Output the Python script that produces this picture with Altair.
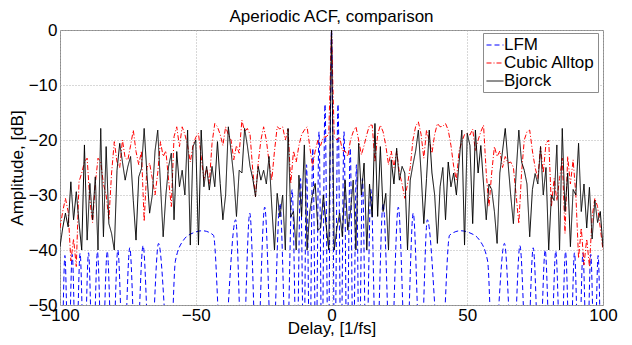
import altair as alt
import pandas as pd

# ---------------- data ----------------
delays = list(range(-100, 101))

bjorck = [
    # -100 .. -67
    -39.4, -36, -33.3, -35.8, -27.6, -34.5, -29.4, -35, -40, -20.9, -38.2, -27.9, -34.5, -26.7, -40, -17.9,
    -37.6, -21.2, -35.2, -37, -40, -25.5, -20.6, -24, -27.3, -24.8, -23, -31, -38.2, -26.7, -25.2, -17.9, -26, -33.3,
    # -66 .. -34
    -30, -22, -18.2, -28, -37.6, -30, -24.8, -22.4, -34.5, -22.1, -28.5, -25.5, -30, -18.2, -39.1, -21.2, -20,
    -39.1, -18.2, -28.5, -24.8, -29.1, -24.8, -28.5, -20.3, -27.9, -34.5, -30, -17.6, -22, -26.7, -33.9, -25.5,
    # -33 .. -1
    -26, -17.9, -21, -24.8, -27, -30.3, -24.8, -27.3, -25.5, -28, -23, -32, -40, -29.7, -34, -30, -40, -17.9,
    -34, -33, -40, -26.4, -33.9, -20.9, -40, -33, -30, -27.9, -36.4, -36, -30, -35.5, -40,
    # 0
    0,
    # 1 .. 33
    -40, -36, -33.3, -37.6, -27.3, -36.4, -33, -27.3, -40, -20.6, -30, -24.2, -40, -28, -34, -17, -33.9, -21.2,
    -33, -29.7, -40, -23.6, -28, -21.5, -27.3, -24.8, -26, -40, -27.3, -24.5, -22, -18.2, -26,
    # 34 .. 66
    -35.2, -27, -18.2, -26, -30, -38.8, -28.5, -25, -34.5, -24, -28.5, -26, -30, -24, -18.2, -39.1, -18.8, -21,
    -35.2, -18.2, -26, -21, -28, -34.5, -28, -29, -33, -38.8, -26, -22, -17.9, -24, -30,
    # 67 .. 100
    -35.2, -26, -18.2, -24, -25.5, -28, -37.6, -29, -26.1, -28, -21.2, -30, -25, -40, -30, -31, -20.9, -40,
    -17.9, -33, -26, -39.4, -29, -30, -20.6, -33, -28, -36, -28.6, -38, -31, -35, -33, -39.5,
]

alltop = [
    # -100 .. -67
    -36, -33, -30.6, -33, -42, -38, -43, -27.6, -26, -24, -23.3, -31, -35, -28, -23.3, -24, -28, -30, -34.5,
    -26, -20.3, -24, -25, -20, -23.3, -23.6, -21, -18.2, -22.1, -24.5, -22, -34.8, -25, -24.2,
    # -66 .. -34
    -27, -30, -26, -20.3, -23, -22, -27.3, -32.1, -19.4, -17.6, -21.2, -17.6, -19, -21, -24, -21, -19.5, -18.8,
    -23, -27.3, -25, -27.9, -20.6, -17, -17.6, -19, -21, -17.6, -19, -20, -23.6, -21, -22.4,
    # -33 .. -1
    -16.4, -18.5, -17.9, -19, -25.5, -30.3, -24.2, -20, -17.6, -20, -24, -27.3, -22, -17.6, -18, -17.6, -20,
    -18, -27.9, -22, -24, -21, -19, -18.2, -17.6, -21.2, -24.8, -22, -20, -21, -19.5, -19.4, -19,
    # 0
    0,
    # 1 .. 33
    -19.4, -20, -19.4, -21.9, -22, -23, -20, -18.5, -17.6, -20, -22.7, -21, -19, -17.3, -17.3, -24, -19, -17.3,
    -18.5, -21, -24.5, -22, -25, -22, -26, -28, -30.6, -28, -25, -20, -17.5, -16.7, -19,
    # 34 .. 66
    -23.3, -18.2, -20, -22.4, -19, -17, -17.6, -17.5, -17, -18.2, -21, -24.8, -27.3, -22, -20.3, -19, -18.8,
    -19.1, -18, -22, -20, -18.5, -17.3, -26, -32.1, -26, -21.2, -23, -22, -25, -23, -24.2, -24,
    # 67 .. 100
    -25, -30, -35.2, -26, -20, -18.5, -18.2, -22, -25, -27, -21.2, -26, -20.6, -20, -32.1, -27, -31, -27,
    -23.3, -37, -23, -28, -23.6, -30, -41.5, -36, -42.7, -38, -43, -34, -30.6, -32.1, -36, -40,
]

# LFM: lobe peaks and nulls for positive delays (the ACF magnitude is symmetric)
lfm_pos_delay = [0, 1.2, 2.4, 3.5, 4.6, 5.7, 6.9, 8.0, 9.2, 10.2, 11.4, 12.8, 14.5, 16.5, 19, 21.8, 24.6, 27.5,
                 30.1, 32.8, 35.3, 40.3, 43.5, 47.5, 51, 54.5, 57.5, 59.5, 63.7, 66.8, 69.4, 72, 74.3, 76.6,
                 78.7, 80.7, 82.6, 84.5, 86.2, 87.9, 89.5, 91.1, 92.6, 94.1, 95.5, 96.9, 98.2, 99.5, 100]
lfm_pos_db = [0, -62, -13.5, -62, -18.5, -62, -21.5, -62, -24.5, -62, -27, -62, -29, -62, -31.5, -62, -32.2, -62,
              -33.3, -62, -34.5, -62, -37.3, -36.5, -36.9, -38.2, -42, -62, -38.8, -62, -39.2, -62, -39.6, -62,
              -40, -62, -40.2, -62, -40.3, -62, -40.5, -62, -40.6, -62, -40.8, -62, -41, -62, -55]

lfm_delay = [-d for d in reversed(lfm_pos_delay[1:])] + lfm_pos_delay
lfm_db = list(reversed(lfm_pos_db[1:])) + lfm_pos_db

series_order = ["LFM", "Cubic Alltop", "Bjorck"]
series_colors = ["#0000ff", "#ff0000", "#000000"]
series_dashes = [[5, 3], [5, 2, 1, 2], [1, 0]]

x_ticks = [-100, -50, 0, 50, 100]
y_ticks = [-50, -40, -30, -20, -10, 0]
chart_title = "Aperiodic ACF, comparison"

df_lfm = pd.DataFrame({"delay": lfm_delay, "db": lfm_db, "series": "LFM"})
df_alltop = pd.DataFrame({"delay": delays, "db": alltop, "series": "Cubic Alltop"})
df_bjorck = pd.DataFrame({"delay": delays, "db": bjorck, "series": "Bjorck"})
df_title = pd.DataFrame({"label": [chart_title]})

FONT = "Liberation Sans"
FS = 17

dash_expr = ("datum.value === 'LFM' ? [5, 3] : "
             "(datum.value === 'Cubic Alltop' ? [5, 2, 1, 2] : [1, 0])")

legend = alt.Legend(
    title=None, orient="none", legendX=423, legendY=3,
    fillColor="white", strokeColor="#8c8c8c", padding=3, rowPadding=1,
    labelFontSize=FS, labelFont=FONT, labelColor="black", labelOffset=0,
    symbolType="stroke", symbolSize=289, symbolStrokeWidth=1,
    symbolDash=alt.ExprRef(expr=dash_expr),
)

x_enc = alt.X("delay:Q",
              scale=alt.Scale(domain=[-100, 100], nice=False, zero=False),
              axis=alt.Axis(values=x_ticks, title="Delay, [1/fs]", titleX=271.5, titleY=23,
                            titleBaseline="middle", titleAlign="center", labelPadding=2,
                            labelFlush=False, labelOverlap=False))
y_enc = alt.Y("db:Q",
              scale=alt.Scale(domain=[-50, 0], nice=False, zero=False),
              axis=alt.Axis(values=y_ticks, title="Amplitude, [dB]", titleX=-43, titleY=137.5,
                            titleAngle=-90, titleBaseline="middle", titleAlign="center", labelPadding=3,
                            labelFlush=False, labelOverlap=False))
enc = dict(
    x=x_enc, y=y_enc,
    color=alt.Color("series:N", scale=alt.Scale(domain=series_order, range=series_colors), legend=legend),
    strokeDash=alt.StrokeDash("series:N", scale=alt.Scale(domain=series_order, range=series_dashes), legend=None),
)

lfm_layer = alt.Chart(df_lfm).mark_line(interpolate="monotone", clip=True, strokeWidth=1).encode(**enc)
alltop_layer = alt.Chart(df_alltop).mark_line(clip=True, strokeWidth=1).encode(**enc)
bjorck_layer = alt.Chart(df_bjorck).mark_line(clip=True, strokeWidth=1).encode(**enc)

title_layer = alt.Chart(df_title).mark_text(
    font=FONT, fontSize=FS, color="black", align="center", baseline="alphabetic"
).encode(x=alt.value(271.5), y=alt.value(-8), text="label:N")

chart = alt.layer(lfm_layer, alltop_layer, bjorck_layer, title_layer).properties(
    width=543, height=275,
    padding={"left": 52, "top": 22, "right": 21, "bottom": 32},
    autosize=alt.AutoSizeParams(type="none"),
).configure_view(
    stroke="#8c8c8c", strokeWidth=1,
).configure_axis(
    domain=False, ticks=False, grid=True, gridDash=[1, 2], gridColor="#b0b0b0", gridWidth=1,
    labelFont=FONT, labelFontSize=FS, labelColor="black",
    titleFont=FONT, titleFontSize=FS, titleFontWeight="normal", titleColor="black",
)

chart.save("out.html", embed_options={"renderer": "svg", "actions": False})
